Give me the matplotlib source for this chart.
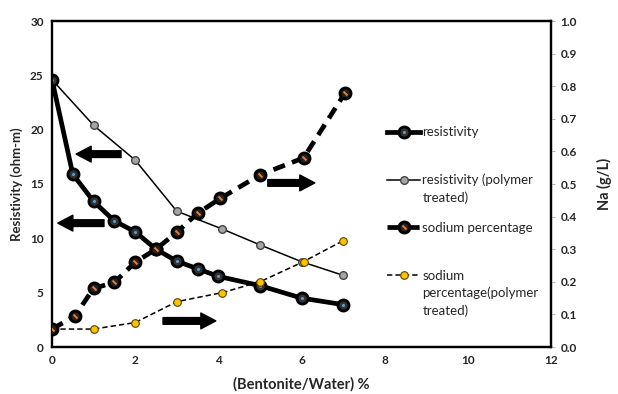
import matplotlib
matplotlib.use("Agg")
import matplotlib.pyplot as plt
from matplotlib.legend_handler import HandlerTuple

plt.rcParams['font.family'] = ['Lato', 'DejaVu Sans']

# Data
x_res = [0, 0.5, 1, 1.5, 2, 2.5, 3, 3.5, 4, 5, 6, 7]
resistivity = [24.6, 15.9, 13.4, 11.6, 10.6, 9.0, 7.9, 7.2, 6.5, 5.65, 4.5, 3.9]

x_poly = [0, 1, 2, 3, 4.1, 5, 6, 7]
resistivity_poly = [24.6, 20.4, 17.2, 12.5, 10.85, 9.4, 7.85, 6.6]

x_na = [0, 0.55, 1, 1.5, 2, 2.5, 3, 3.5, 4.05, 5, 6.05, 7.05]
sodium = [0.055, 0.095, 0.18, 0.198, 0.26, 0.30, 0.352, 0.41, 0.456, 0.528, 0.58, 0.78]

x_na_poly = [0, 1, 2, 3, 4.1, 5, 6.05, 7]
sodium_poly = [0.055, 0.055, 0.075, 0.139, 0.167, 0.2, 0.262, 0.326]

x_ticks = [0, 2, 4, 6, 8, 10, 12]
y_left_ticks = [0, 5, 10, 15, 20, 25, 30]
y_right_ticks = [0.0, 0.1, 0.2, 0.3, 0.4, 0.5, 0.6, 0.7, 0.8, 0.9, 1.0]

legend_labels = [['resistivity'],
                 ['resistivity (polymer', 'treated)'],
                 ['sodium percentage'],
                 ['sodium', 'percentage(polymer', 'treated)']]

fig = plt.figure(figsize=(6.18, 3.94), dpi=100)
ax = fig.add_axes([52/618, 1-347/394, (551-52)/618, (347-21)/394])
ax2 = ax.twinx()

tick_color = '#262626'

l1, = ax.plot(x_res, resistivity, '-', color='black', lw=3.4, marker='o',
              markersize=8, markerfacecolor='#333333', markeredgecolor='black',
              markeredgewidth=2.0, zorder=5)
d1, = ax.plot(x_res, resistivity, linestyle='none', marker='o', markersize=2.2,
              markerfacecolor='#5b9bd5', markeredgewidth=0, zorder=6)
l2, = ax.plot(x_poly, resistivity_poly, '-', color='black', lw=1.1, marker='o',
              markersize=5.5, markerfacecolor='#a5a5a5', markeredgecolor='#444444',
              markeredgewidth=1.0, zorder=4)
l3, = ax2.plot(x_na, sodium, color='black', lw=3.4, linestyle=(0, (2.6, 1.6)), marker='o',
               markersize=8, markerfacecolor='#222222', markeredgecolor='black',
               markeredgewidth=2.0, zorder=5)
d3, = ax2.plot(x_na, sodium, linestyle='none', marker=(2, 0, 45), markersize=4,
               markeredgecolor='#ed7d31', markeredgewidth=1.4, zorder=6)
l4, = ax2.plot(x_na_poly, sodium_poly, color='black', lw=1.1, linestyle=(0, (3.5, 2)),
               marker='o', markersize=5.5, markerfacecolor='#ffc000',
               markeredgecolor='#5a4500', markeredgewidth=0.8, zorder=4)

ax.set_xlim(0, 12)
ax.set_ylim(0, 30)
ax2.set_ylim(0, 1.0)
ax.set_xticks(x_ticks)
ax.set_yticks(y_left_ticks)
ax2.set_yticks(y_right_ticks)
ax2.set_yticklabels([f"{v:.1f}" for v in y_right_ticks])

for a in (ax, ax2):
    for s in a.spines.values():
        s.set_color('black')
        s.set_linewidth(1.6)
ax.spines['left'].set_color('#555555')

ax.tick_params(axis='both', length=0, pad=6, labelsize=8.5, labelcolor=tick_color)
ax2.tick_params(axis='y', length=3, width=0.6, color='#aaaaaa', pad=4,
                labelsize=8.5, labelcolor=tick_color)
for lab in ax.get_xticklabels() + ax.get_yticklabels() + ax2.get_yticklabels():
    lab.set_fontweight('bold')

ax.set_xlabel('(Bentonite/Water) %', fontsize=10.5, fontweight='bold', color=tick_color, labelpad=8)
ax.set_ylabel('Resistivity (ohm-m)', fontsize=9.5, fontweight='bold', color=tick_color, labelpad=5)
ax2.set_ylabel('Na (g/L)', fontsize=10.5, fontweight='bold', color=tick_color, labelpad=14)

# Arrows
arrow_style = 'simple,head_length=0.9,head_width=0.95,tail_width=0.4'
arrows = [((1.66, 17.75), (0.58, 17.75)),
          ((1.25, 11.4), (0.14, 11.4)),
          ((5.19, 15.1), (6.32, 15.1)),
          ((2.67, 2.4), (3.94, 2.4))]
for tail, head in arrows:
    ax.annotate('', xy=head, xytext=tail,
                arrowprops=dict(arrowstyle=arrow_style, color='black',
                                mutation_scale=12, shrinkA=0, shrinkB=0),
                zorder=7)

leg_fs = 9.5
leg = ax2.legend(handles=[(l1, d1), l2, (l3, d3), l4],
                 labels=[lab[0] for lab in legend_labels], loc='upper left',
                 bbox_to_anchor=(382/618, 1-121/394), bbox_transform=fig.transFigure,
                 frameon=False, fontsize=leg_fs, handlelength=2.5, handletextpad=0.15,
                 labelspacing=2.7, borderaxespad=0,
                 handler_map={tuple: HandlerTuple(ndivide=1, pad=0)})
for t in leg.get_texts():
    t.set_color(tick_color)

# continuation lines of wrapped legend labels
fig.canvas.draw()
line_step = 17.5 / 394
for t, lab in zip(leg.get_texts(), legend_labels):
    bb = t.get_window_extent().transformed(fig.transFigure.inverted())
    for k, extra in enumerate(lab[1:], start=1):
        fig.text(bb.x0, bb.y0 - k * line_step, extra, fontsize=leg_fs,
                 color=tick_color, ha='left', va='bottom')

fig.savefig('out.png', dpi=100)
